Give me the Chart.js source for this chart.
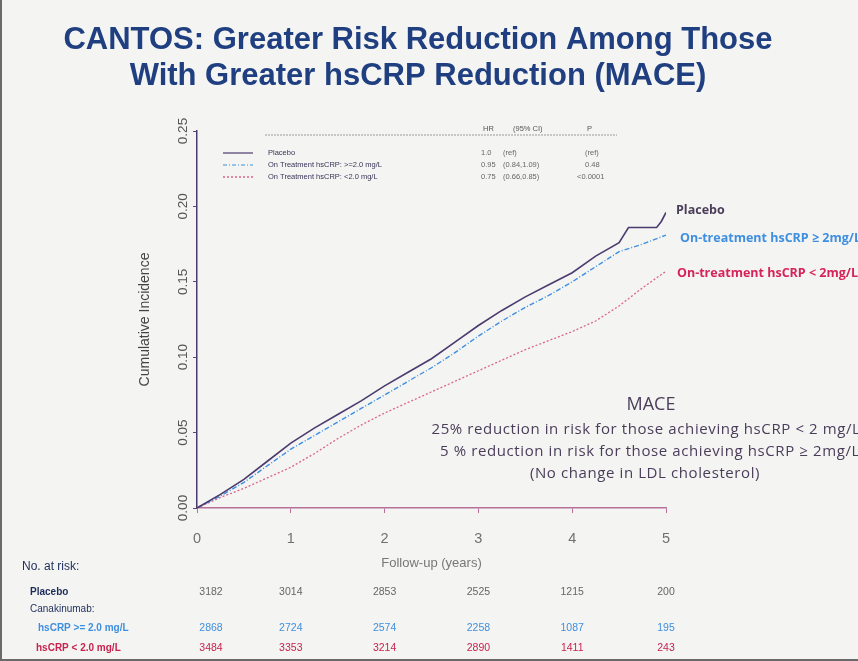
<!DOCTYPE html>
<html>
<head>
<meta charset="utf-8">
<script src="https://cdn.jsdelivr.net/npm/chart.js@4.4.0/dist/chart.umd.min.js"></script>
<style>
  html, body { margin: 0; padding: 0; background: #f3f3f1; }
  canvas { display: block; }
</style>
</head>
<body>
<canvas id="cantos" width="858" height="661"></canvas>
<script>
// follow-up times (years) and cumulative incidence
const placeboYears = [0, 0.25, 0.5, 0.75, 1, 1.25, 1.5, 1.75, 2, 2.25, 2.5, 2.75, 3, 3.25, 3.5, 3.75, 4, 4.25, 4.5, 4.6, 4.9, 4.95, 5];
const placeboRisk = [0, 0.009, 0.019, 0.031, 0.043, 0.053, 0.062, 0.071, 0.081, 0.090, 0.099, 0.110, 0.121, 0.131, 0.140, 0.148, 0.156, 0.167, 0.176, 0.186, 0.186, 0.190, 0.196];

const treatYears = [0, 0.25, 0.5, 0.75, 1, 1.25, 1.5, 1.75, 2, 2.25, 2.5, 2.75, 3, 3.25, 3.5, 3.75, 4, 4.25, 4.5, 4.75, 5];
const highCrpRisk = [0, 0.008, 0.017, 0.028, 0.039, 0.048, 0.057, 0.066, 0.075, 0.084, 0.093, 0.103, 0.114, 0.124, 0.133, 0.141, 0.150, 0.160, 0.170, 0.175, 0.181];
const lowCrpRisk = [0, 0.007, 0.013, 0.020, 0.027, 0.036, 0.046, 0.055, 0.063, 0.070, 0.077, 0.084, 0.091, 0.098, 0.105, 0.111, 0.117, 0.124, 0.134, 0.146, 0.157];

const atRiskYears = [0, 1, 2, 3, 4, 5];
const atRiskPlacebo = [3182, 3014, 2853, 2525, 1215, 200];
const atRiskHigh = [2868, 2724, 2574, 2258, 1087, 195];
const atRiskLow = [3484, 3353, 3214, 2890, 1411, 243];

const legendRows = [
  ['Placebo', '1.0', '(ref)', '(ref)'],
  ['On Treatment hsCRP: >=2.0 mg/L', '0.95', '(0.84,1.09)', '0.48'],
  ['On Treatment hsCRP: <2.0 mg/L', '0.75', '(0.66,0.85)', '<0.0001']
];

const PLACEBO = '#4b3b6e';
const BLUE = '#3f8fe0';
const RED = '#d2426e';

function pts(xs, ys) {
  return xs.map((x, i) => ({ x, y: ys[i] }));
}

const slide = {
  id: 'slide',
  beforeDraw(chart) {
    const ctx = chart.ctx;
    ctx.save();
    ctx.fillStyle = '#f4f4f2';
    ctx.fillRect(0, 0, chart.width, chart.height);
    ctx.fillStyle = '#6a6a6a';
    ctx.fillRect(0, 0, 2, chart.height);
    ctx.fillRect(0, chart.height - 2, chart.width, 2);
    ctx.restore();
  },
  afterDraw(chart) {
    const ctx = chart.ctx;
    const xs = chart.scales.x;
    ctx.save();

    // title
    ctx.fillStyle = '#1f3f80';
    ctx.textAlign = 'center';
    ctx.textBaseline = 'middle';
    ctx.font = 'bold 31px "Liberation Sans", Arial, sans-serif';
    ctx.fillText('CANTOS: Greater Risk Reduction Among Those', 418, 40, 714);
    ctx.fillText('With Greater hsCRP Reduction (MACE)', 418, 76, 590);

    // legend box inside the plot
    ctx.textAlign = 'left';
    ctx.font = '7.5px "Liberation Sans", Arial, sans-serif';
    ctx.fillStyle = '#555';
    ctx.fillText('HR', 483, 129);
    ctx.fillText('(95% CI)', 513, 129);
    ctx.fillText('P', 587, 129);
    ctx.strokeStyle = '#999';
    ctx.lineWidth = 1;
    ctx.setLineDash([2, 1]);
    ctx.beginPath();
    ctx.moveTo(265, 135);
    ctx.lineTo(617, 135);
    ctx.stroke();
    const styles = [[PLACEBO, []], [BLUE, [4, 2, 1, 2]], [RED, [2, 2]]];
    legendRows.forEach((row, i) => {
      const y = 153 + i * 12;
      ctx.strokeStyle = styles[i][0];
      ctx.setLineDash(styles[i][1]);
      ctx.lineWidth = 1.2;
      ctx.beginPath();
      ctx.moveTo(223, y);
      ctx.lineTo(253, y);
      ctx.stroke();
      ctx.fillStyle = '#3a3358';
      ctx.fillText(row[0], 268, y);
      ctx.fillStyle = '#666';
      ctx.fillText(row[1], 481, y);
      ctx.fillText(row[2], 503, y);
      ctx.fillText(row[3], i === 2 ? 577 : 585, y);
    });
    ctx.setLineDash([]);

    // curve labels at right
    ctx.font = 'bold 12.5px "Open Sans", sans-serif';
    ctx.fillStyle = '#4a3d5a';
    ctx.fillText('Placebo', 676, 210);
    ctx.fillStyle = BLUE;
    ctx.fillText('On-treatment hsCRP \u2265 2mg/L', 680, 238);
    ctx.fillStyle = '#d6245a';
    ctx.fillText('On-treatment hsCRP < 2mg/L', 677, 273);

    // annotation
    ctx.textAlign = 'center';
    ctx.fillStyle = '#4a3d5a';
    ctx.font = '18px "Open Sans", sans-serif';
    ctx.fillText('MACE', 651, 405);
    ctx.font = '15px "Open Sans", sans-serif';
    ctx.letterSpacing = '0.6px';
    ctx.fillText('25% reduction in risk for those achieving hsCRP < 2 mg/L', 646, 430);
    ctx.fillText('5 % reduction in risk for those achieving hsCRP \u2265 2mg/L', 650, 452);
    ctx.fillText('(No change in LDL cholesterol)', 645, 474);
    ctx.letterSpacing = '0px';

    // number at risk table
    ctx.textAlign = 'left';
    ctx.fillStyle = '#1d2d5a';
    ctx.font = '12px "Liberation Sans", Arial, sans-serif';
    ctx.fillText('No. at risk:', 22, 567);
    ctx.font = 'bold 10px "Liberation Sans", Arial, sans-serif';
    ctx.fillText('Placebo', 30, 592);
    ctx.font = '10px "Liberation Sans", Arial, sans-serif';
    ctx.fillText('Canakinumab:', 30, 609);
    ctx.font = 'bold 10px "Liberation Sans", Arial, sans-serif';
    ctx.fillStyle = BLUE;
    ctx.fillText('hsCRP >= 2.0 mg/L', 38, 628);
    ctx.fillStyle = '#c8234f';
    ctx.fillText('hsCRP < 2.0 mg/L', 36, 648);

    ctx.textAlign = 'center';
    ctx.font = '10.5px "Liberation Sans", Arial, sans-serif';
    atRiskYears.forEach((t, i) => {
      const x = xs.getPixelForValue(t) + (i === 0 ? 14 : 0);
      ctx.fillStyle = '#666';
      ctx.fillText(String(atRiskPlacebo[i]), x, 592);
      ctx.fillStyle = BLUE;
      ctx.fillText(String(atRiskHigh[i]), x, 628);
      ctx.fillStyle = '#c8234f';
      ctx.fillText(String(atRiskLow[i]), x, 648);
    });
    ctx.restore();
  }
};

new Chart(document.getElementById('cantos'), {
  type: 'line',
  data: {
    datasets: [
      {
        label: 'Placebo',
        data: pts(placeboYears, placeboRisk),
        borderColor: PLACEBO,
        borderWidth: 1.6
      },
      {
        label: 'On Treatment hsCRP: >=2.0 mg/L',
        data: pts(treatYears, highCrpRisk),
        borderColor: BLUE,
        borderWidth: 1.4,
        borderDash: [5, 2, 1, 2]
      },
      {
        label: 'On Treatment hsCRP: <2.0 mg/L',
        data: pts(treatYears, lowCrpRisk),
        borderColor: '#d9668a',
        borderWidth: 1.3,
        borderDash: [2, 2]
      }
    ]
  },
  options: {
    responsive: false,
    animation: false,
    layout: { padding: { left: 130, top: 131, right: 192, bottom: 90 } },
    elements: { point: { radius: 0 }, line: { tension: 0 } },
    plugins: { legend: { display: false }, tooltip: { enabled: false } },
    scales: {
      x: {
        type: 'linear',
        min: 0,
        max: 5,
        ticks: { stepSize: 1, color: '#707070', font: { size: 14.5 }, padding: 17 },
        grid: { drawOnChartArea: false, tickLength: 5, color: '#b7709a' },
        border: { color: '#b7709a', width: 1.5 },
        title: { display: true, text: 'Follow-up (years)', color: '#777', font: { size: 13 }, padding: 0 },
        afterFit(scale) { scale.height = 63; }
      },
      y: {
        min: 0,
        max: 0.25,
        ticks: {
          stepSize: 0.05,
          callback: (v) => v.toFixed(2),
          minRotation: 90,
          maxRotation: 90,
          crossAlign: 'center',
          padding: -3,
          color: '#555',
          font: { size: 13.5 }
        },
        grid: { drawOnChartArea: false, tickLength: 4, color: '#5a4a78' },
        border: { color: PLACEBO, width: 1.5 },
        title: { display: true, text: 'Cumulative Incidence', color: '#444', font: { size: 14 }, padding: { top: 7 } },
        afterFit(scale) { scale.width = 67; }
      }
    }
  },
  plugins: [slide]
});
</script>
</body>
</html>
